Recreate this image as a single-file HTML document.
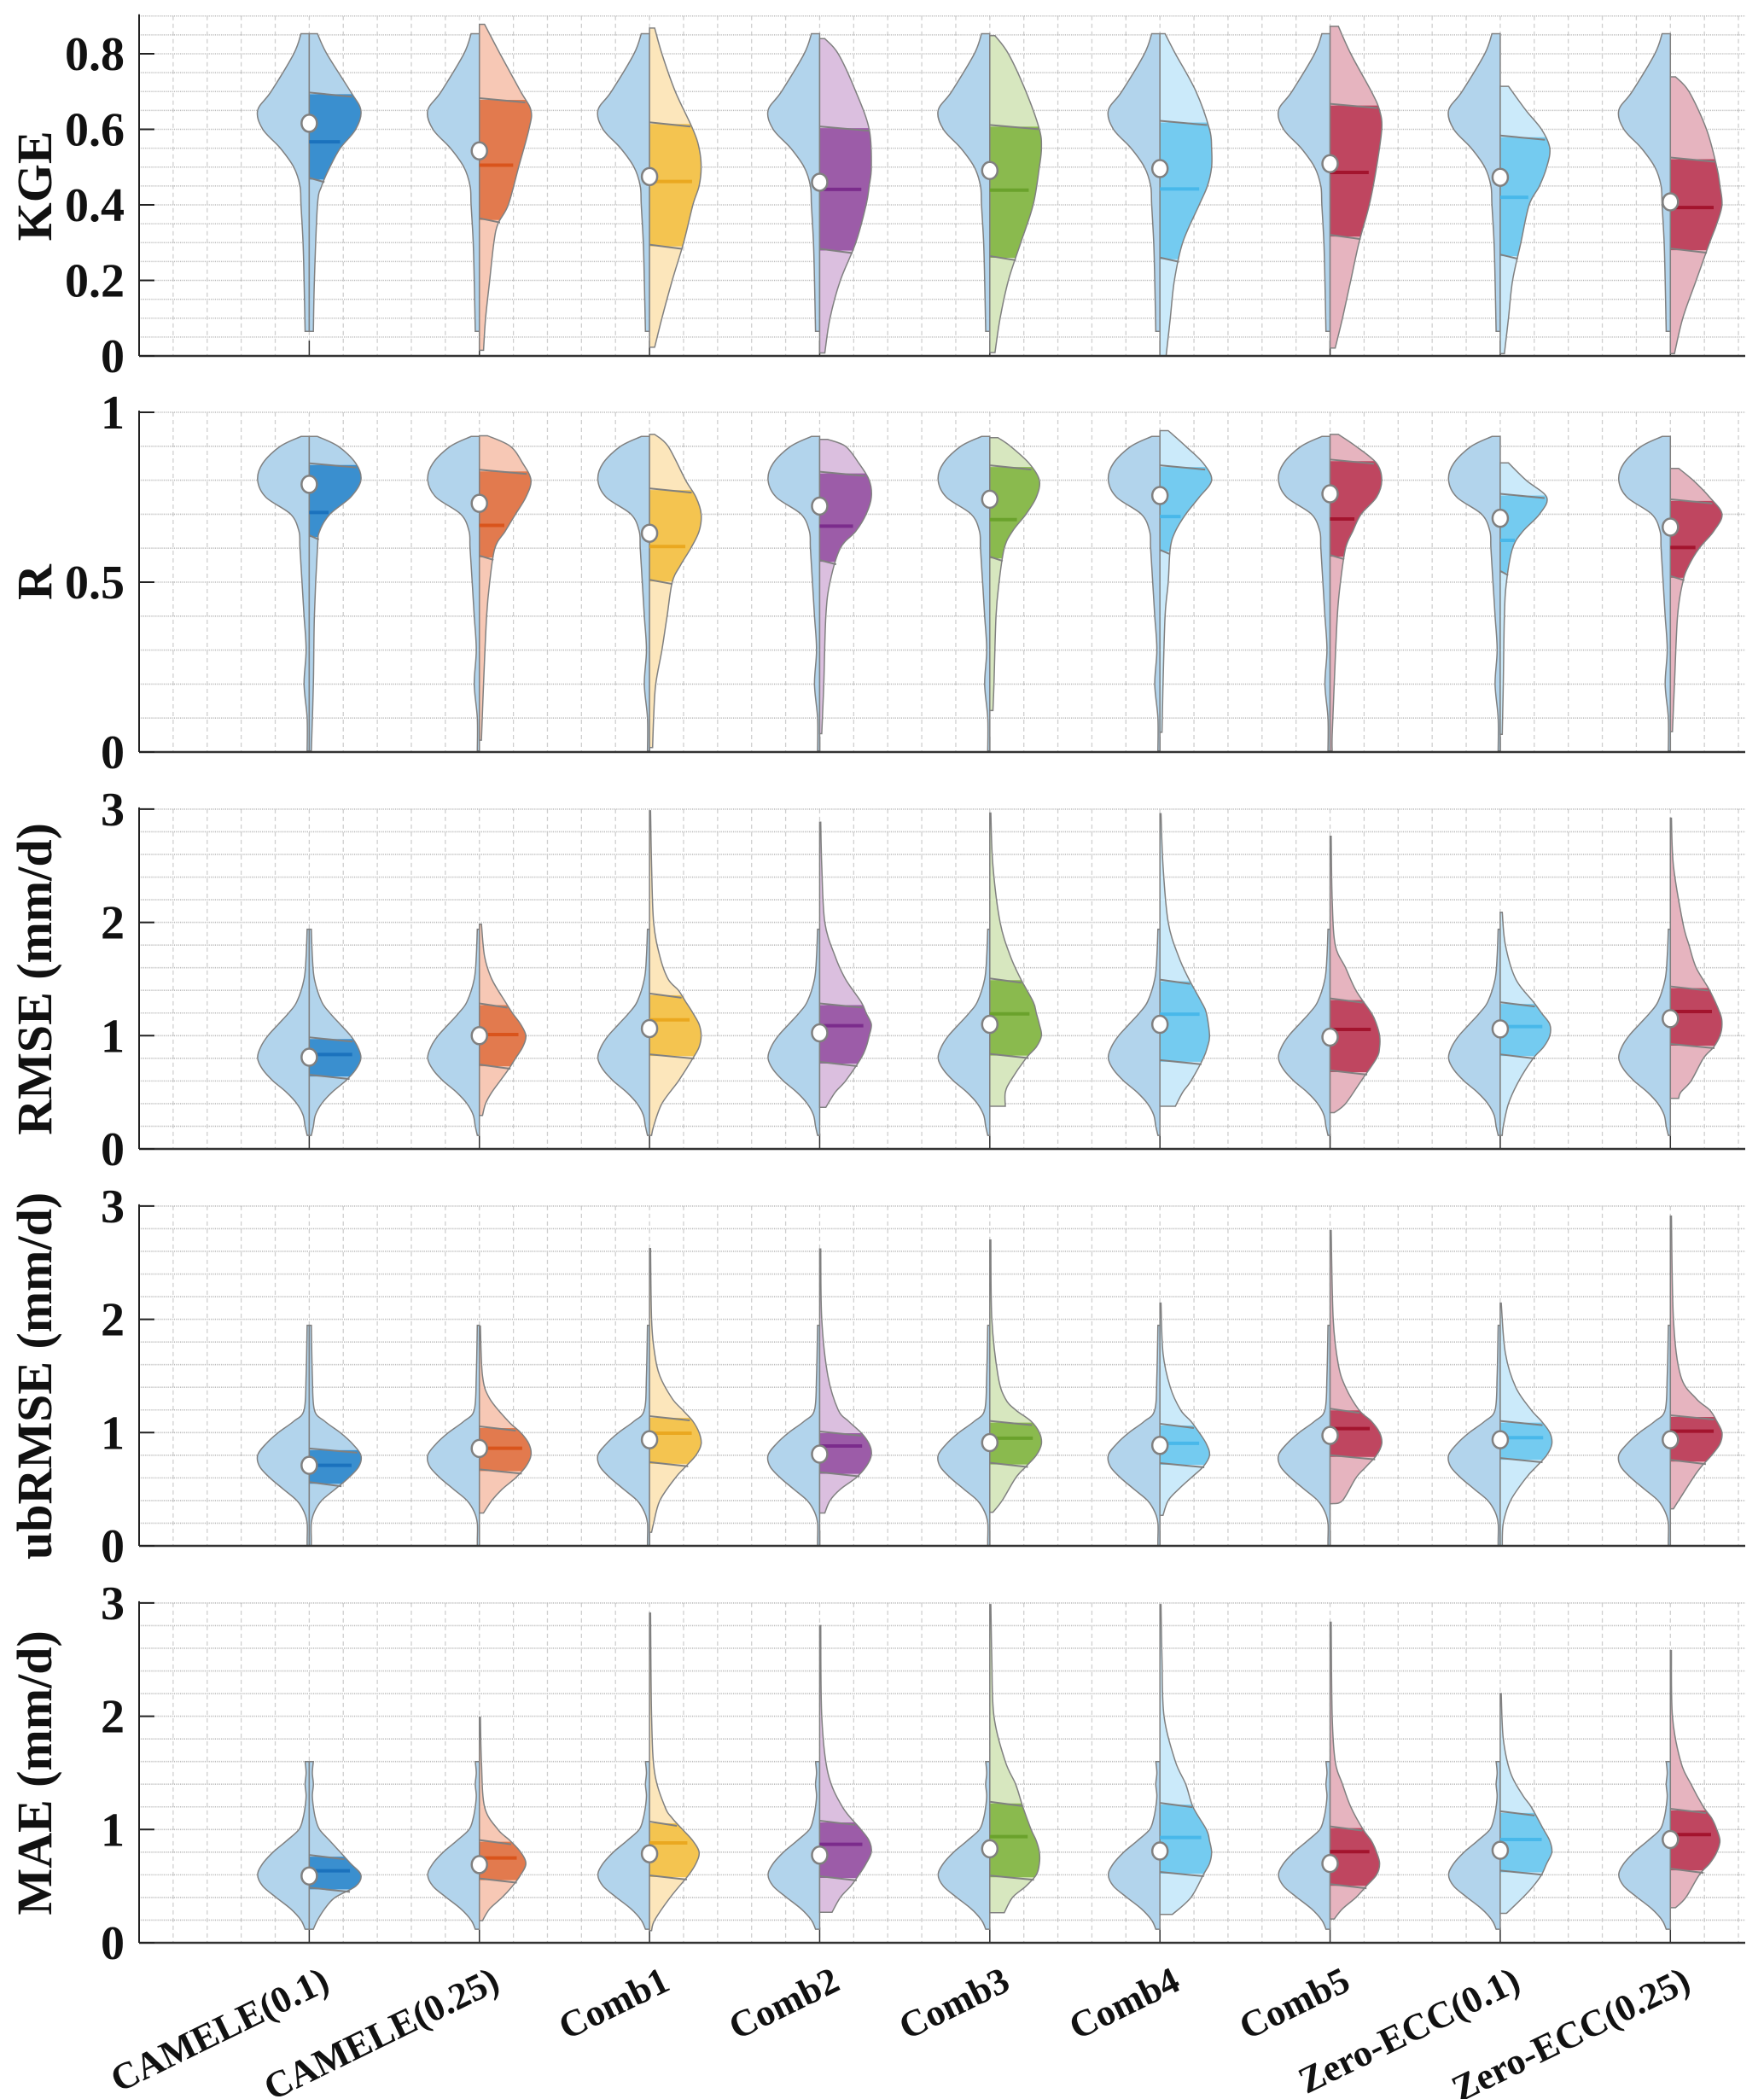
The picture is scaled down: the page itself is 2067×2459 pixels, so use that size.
<!DOCTYPE html>
<html><head><meta charset="utf-8">
<style>
html,body{margin:0;padding:0;background:#fff;}
svg{display:block;font-family:"Liberation Serif",serif;}
</style></head>
<body>
<svg id="chart" width="2067" height="2459" viewBox="0 0 2067 2459" xmlns="http://www.w3.org/2000/svg">
<defs id="defs"></defs>
</svg>
<script>
// ---------- DATA ----------
const categories = ["CAMELE(0.1)","CAMELE(0.25)","Comb1","Comb2","Comb3","Comb4","Comb5","Zero-ECC(0.1)","Zero-ECC(0.25)"];
const darkColors = ["#3a8fcf","#e27a4e","#f4c450","#9c5ca8","#8aba4e","#74cbf0","#bf4660","#74cbf0","#bf4660"];
const lightColors = ["#b2d4ec","#f7c8b5","#fce6bb","#dbbfdf","#d7e7bf","#cbeafa","#e6b4bf","#cbeafa","#e6b4bf"];
const medColors = ["#1b72bd","#d9541c","#eaa820","#7b2c8c","#6aa22c","#48b8ea","#a3142e","#48b8ea","#a3142e"];

// KGE panel
const kgeRef = [[0.065,4],[0.2,5],[0.3,6],[0.4,8],[0.45,9],[0.5,15],[0.55,28],[0.6,45],[0.65,50],[0.7,37],[0.8,15],[0.853,8]];
const kgeProfiles = [
 [[0.065,4],[0.2,5],[0.4,8],[0.45,12],[0.5,20],[0.55,30],[0.6,45],[0.65,50],[0.7,40],[0.8,17],[0.853,8]],
 [[0.015,4],[0.1,6],[0.2,10],[0.3,14],[0.35,18],[0.4,28],[0.5,38],[0.6,48],[0.65,50],[0.7,40],[0.8,20],[0.878,5]],
 [[0.023,5],[0.1,12],[0.2,22],[0.3,33],[0.4,42],[0.45,48],[0.5,50],[0.55,48],[0.6,42],[0.7,25],[0.8,12],[0.868,5]],
 [[0.008,5],[0.1,10],[0.2,20],[0.3,35],[0.4,45],[0.45,48],[0.5,50],[0.6,48],[0.7,35],[0.8,18],[0.84,5]],
 [[0.009,5],[0.1,10],[0.2,18],[0.3,30],[0.4,42],[0.5,48],[0.55,50],[0.6,48],[0.7,35],[0.8,18],[0.848,5]],
 [[0.0,6],[0.1,10],[0.2,14],[0.3,22],[0.4,38],[0.45,46],[0.5,50],[0.55,50],[0.6,48],[0.7,35],[0.8,15],[0.853,5]],
 [[0.021,5],[0.1,12],[0.2,20],[0.3,28],[0.4,38],[0.5,45],[0.6,50],[0.65,48],[0.7,40],[0.8,20],[0.873,8]],
 [[0.006,4],[0.1,8],[0.2,12],[0.3,20],[0.4,28],[0.45,38],[0.5,45],[0.55,48],[0.6,40],[0.65,25],[0.714,8]],
 [[0.006,4],[0.1,12],[0.2,25],[0.3,38],[0.35,45],[0.4,50],[0.45,48],[0.5,45],[0.6,35],[0.7,18],[0.739,5]]
];
const kgeQ1 = [0.467,0.36,0.29,0.279,0.26,0.256,0.316,0.264,0.28];
const kgeMedian = [0.567,0.505,0.462,0.441,0.439,0.442,0.486,0.42,0.393];
const kgeQ3 = [0.693,0.678,0.614,0.603,0.607,0.618,0.663,0.579,0.521];
const kgeMean = [0.616,0.543,0.475,0.46,0.491,0.496,0.509,0.473,0.408];

// R panel
const rRef = [[0.003,2],[0.1,2],[0.2,5],[0.3,3],[0.4,5],[0.5,7],[0.6,9],[0.65,10],[0.7,18],[0.75,42],[0.8,50],[0.85,45],[0.9,28],[0.929,8]];
const rProfiles = [
 [[0.003,2],[0.2,4],[0.4,5],[0.6,8],[0.65,10],[0.7,20],[0.75,40],[0.8,50],[0.85,45],[0.9,28],[0.929,8]],
 [[0.035,2],[0.2,4],[0.4,7],[0.5,10],[0.6,15],[0.65,25],[0.7,35],[0.75,45],[0.8,50],[0.85,42],[0.9,30],[0.931,8]],
 [[0.013,3],[0.1,4],[0.2,6],[0.3,12],[0.4,17],[0.5,22],[0.55,30],[0.6,40],[0.65,48],[0.7,50],[0.75,45],[0.8,35],[0.9,18],[0.935,5]],
 [[0.054,2],[0.2,4],[0.4,6],[0.5,10],[0.6,20],[0.65,35],[0.7,45],[0.75,50],[0.8,48],[0.85,38],[0.9,25],[0.92,8]],
 [[0.122,3],[0.2,4],[0.4,6],[0.5,9],[0.6,14],[0.65,22],[0.7,35],[0.75,45],[0.8,48],[0.85,38],[0.9,20],[0.925,8]],
 [[0.058,2],[0.2,3],[0.4,5],[0.5,8],[0.6,10],[0.65,15],[0.7,25],[0.75,38],[0.8,50],[0.85,42],[0.9,25],[0.946,8]],
 [[0.003,2],[0.05,2],[0.2,4],[0.4,7],[0.5,10],[0.6,15],[0.65,22],[0.7,30],[0.75,45],[0.8,50],[0.85,45],[0.9,25],[0.935,8]],
 [[0.052,2],[0.2,3],[0.4,4],[0.5,6],[0.6,12],[0.65,22],[0.7,38],[0.75,45],[0.8,25],[0.851,8]],
 [[0.06,2],[0.2,4],[0.4,7],[0.5,12],[0.55,18],[0.6,28],[0.65,42],[0.7,50],[0.75,38],[0.8,22],[0.835,8]]
];
const rQ1 = [0.633,0.573,0.502,0.56,0.57,0.59,0.575,0.528,0.513];
const rMedian = [0.705,0.667,0.605,0.665,0.684,0.693,0.686,0.623,0.602];
const rQ3 = [0.845,0.826,0.771,0.82,0.839,0.839,0.856,0.755,0.739];
const rMean = [0.788,0.732,0.644,0.724,0.744,0.755,0.76,0.688,0.662];

// RMSE panel
const rmseRef = [[0.12,2],[0.2,4],[0.3,6],[0.4,12],[0.5,22],[0.6,35],[0.7,45],[0.8,50],[0.9,47],[1.0,40],[1.1,30],[1.2,20],[1.3,12],[1.5,5],[1.7,3],[1.94,2]];
const rmseProfiles = [
 [[0.12,2],[0.2,4],[0.3,6],[0.4,12],[0.5,22],[0.6,35],[0.7,45],[0.8,50],[0.9,47],[1.0,40],[1.1,30],[1.2,20],[1.3,12],[1.5,5],[1.7,3],[1.94,2]],
 [[0.296,3],[0.4,6],[0.5,12],[0.6,20],[0.7,28],[0.8,35],[0.9,42],[1.0,45],[1.1,40],[1.2,32],[1.3,25],[1.5,12],[1.7,5],[1.985,2]],
 [[0.12,2],[0.2,4],[0.4,12],[0.6,28],[0.8,42],[0.9,48],[1.0,50],[1.1,48],[1.2,42],[1.3,35],[1.4,28],[1.5,18],[1.7,10],[2.0,4],[2.5,2],[2.985,1]],
 [[0.367,6],[0.5,15],[0.6,25],[0.8,40],[0.9,45],[1.0,48],[1.1,50],[1.2,45],[1.3,40],[1.5,25],[1.7,15],[2.0,5],[2.5,2],[2.885,1]],
 [[0.377,15],[0.5,15],[0.6,20],[0.8,35],[0.9,45],[1.0,50],[1.1,48],[1.2,45],[1.3,42],[1.5,30],[1.7,20],[2.0,10],[2.5,3],[2.965,1]],
 [[0.377,15],[0.5,22],[0.6,30],[0.8,42],[0.9,46],[1.0,48],[1.2,45],[1.3,40],[1.5,28],[1.7,18],[2.0,8],[2.5,3],[2.96,1]],
 [[0.32,4],[0.4,15],[0.6,30],[0.8,45],[0.9,48],[1.0,48],[1.1,45],[1.2,40],[1.4,25],[1.6,15],[1.8,5],[2.2,2],[2.76,1]],
 [[0.12,2],[0.2,3],[0.4,8],[0.6,18],[0.8,32],[0.9,42],[1.0,48],[1.1,48],[1.2,40],[1.3,32],[1.5,15],[1.8,5],[2.09,2]],
 [[0.447,8],[0.5,10],[0.6,20],[0.8,32],[0.9,42],[1.0,48],[1.1,50],[1.2,48],[1.4,38],[1.6,25],[1.8,18],[2.0,12],[2.5,3],[2.92,1]]
];
const rmseQ1 = [0.64,0.73,0.82,0.754,0.824,0.77,0.678,0.82,0.912];
const rmseMedian = [0.834,1.01,1.14,1.088,1.193,1.19,1.055,1.08,1.213];
const rmseQ3 = [0.97,1.27,1.357,1.27,1.49,1.48,1.314,1.28,1.42];
const rmseMean = [0.81,1.0,1.063,1.025,1.1,1.1,0.987,1.06,1.15];

// ubRMSE panel
const ubRef = [[0.0,2],[0.05,2],[0.2,2],[0.3,5],[0.4,12],[0.5,25],[0.6,38],[0.7,48],[0.8,50],[0.9,42],[1.0,30],[1.1,15],[1.2,5],[1.5,3],[1.947,2]];
const ubProfiles = [
 [[0.0,2],[0.05,2],[0.2,2],[0.3,5],[0.4,12],[0.5,25],[0.6,38],[0.7,48],[0.8,50],[0.9,42],[1.0,30],[1.1,15],[1.2,5],[1.5,3],[1.947,2]],
 [[0.29,4],[0.4,12],[0.5,22],[0.6,35],[0.7,45],[0.8,50],[0.9,48],[1.0,40],[1.1,28],[1.3,10],[1.5,3],[1.94,1]],
 [[0.12,2],[0.2,4],[0.4,10],[0.6,25],[0.7,35],[0.8,45],[0.9,50],[1.0,48],[1.1,42],[1.2,32],[1.3,22],[1.5,10],[1.7,5],[2.0,2],[2.625,1]],
 [[0.29,5],[0.4,10],[0.5,20],[0.6,35],[0.7,45],[0.8,50],[0.9,48],[1.0,40],[1.1,28],[1.2,18],[1.5,8],[2.0,2],[2.62,1]],
 [[0.297,3],[0.4,12],[0.6,25],[0.7,35],[0.8,45],[0.9,50],[1.0,48],[1.1,40],[1.2,25],[1.3,15],[1.5,8],[2.0,2],[2.7,1]],
 [[0.27,3],[0.4,8],[0.5,18],[0.6,30],[0.7,42],[0.8,48],[0.9,45],[1.0,38],[1.1,30],[1.2,20],[1.4,10],[1.7,3],[2.143,1]],
 [[0.372,2],[0.4,12],[0.6,25],[0.7,35],[0.8,45],[0.9,50],[1.0,48],[1.1,40],[1.2,28],[1.4,15],[1.6,8],[2.0,3],[2.784,1]],
 [[0.0,2],[0.2,3],[0.4,10],[0.6,25],[0.7,35],[0.8,45],[0.9,50],[1.0,48],[1.1,40],[1.2,30],[1.4,15],[1.7,5],[2.143,1]],
 [[0.327,3],[0.4,8],[0.6,22],[0.7,30],[0.8,40],[0.9,48],[1.0,50],[1.1,45],[1.2,38],[1.3,25],[1.5,10],[2.0,3],[2.91,1]]
];
const ubQ1 = [0.548,0.66,0.724,0.636,0.719,0.716,0.786,0.76,0.744];
const ubMedian = [0.711,0.862,0.995,0.882,0.95,0.905,1.035,0.955,1.013];
const ubQ3 = [0.845,1.04,1.13,0.995,1.088,1.063,1.196,1.088,1.138];
const ubMean = [0.711,0.86,0.937,0.81,0.912,0.887,0.975,0.937,0.937];

// MAE panel
const maeRef = [[0.12,4],[0.2,8],[0.3,18],[0.4,32],[0.5,45],[0.6,50],[0.7,45],[0.8,35],[0.9,22],[1.0,10],[1.1,6],[1.2,4],[1.3,3],[1.4,4],[1.5,3],[1.6,4]];
const maeProfiles = [
 [[0.12,4],[0.2,8],[0.3,15],[0.4,25],[0.5,45],[0.6,50],[0.7,40],[0.8,30],[0.9,20],[1.0,10],[1.1,6],[1.2,4],[1.3,3],[1.4,4],[1.5,3],[1.6,4]],
 [[0.196,3],[0.3,10],[0.4,22],[0.5,32],[0.6,40],[0.7,45],[0.8,40],[0.9,30],[1.0,18],[1.2,5],[1.6,2],[1.99,1]],
 [[0.108,2],[0.2,5],[0.4,20],[0.6,38],[0.7,45],[0.8,48],[0.9,42],[1.0,32],[1.1,22],[1.2,15],[1.5,5],[2.0,2],[2.91,1]],
 [[0.27,12],[0.4,20],[0.5,30],[0.6,38],[0.7,45],[0.8,50],[0.9,48],[1.0,40],[1.2,22],[1.5,8],[2.0,2],[2.8,1]],
 [[0.266,14],[0.4,22],[0.5,35],[0.6,45],[0.7,48],[0.8,48],[0.9,45],[1.0,40],[1.2,32],[1.4,25],[1.6,15],[2.0,4],[2.5,2],[2.985,1]],
 [[0.25,12],[0.4,30],[0.6,42],[0.7,48],[0.8,50],[0.9,48],[1.0,45],[1.2,32],[1.4,25],[1.6,15],[2.0,4],[2.5,2],[2.985,1]],
 [[0.21,4],[0.3,12],[0.4,25],[0.5,35],[0.6,45],[0.7,48],[0.8,45],[0.9,40],[1.0,32],[1.2,20],[1.4,12],[1.6,5],[2.0,2],[2.83,1]],
 [[0.26,6],[0.4,22],[0.5,32],[0.6,40],[0.7,45],[0.8,50],[0.9,48],[1.0,42],[1.2,30],[1.3,22],[1.5,10],[1.8,3],[2.2,1]],
 [[0.31,5],[0.4,15],[0.6,28],[0.7,38],[0.8,45],[0.9,48],[1.0,45],[1.1,40],[1.2,32],[1.4,20],[1.6,10],[2.0,2],[2.58,1]]
];
const maeQ1 = [0.472,0.553,0.58,0.573,0.578,0.61,0.503,0.623,0.64];
const maeMedian = [0.636,0.749,0.882,0.869,0.937,0.93,0.804,0.912,0.955];
const maeQ3 = [0.76,0.892,1.055,1.063,1.23,1.22,1.013,1.146,1.168];
const maeMean = [0.59,0.69,0.786,0.774,0.83,0.81,0.7,0.817,0.912];

const yTicksKGE = ["0","0.2","0.4","0.6","0.8"];
const yTicksR = ["0","0.5","1"];
const yTicks3 = ["0","1","2","3"];

// ---------- LAYOUT ----------
const NS = "http://www.w3.org/2000/svg";
const svg = document.getElementById("chart");
const defs = document.getElementById("defs");
const X0 = 163, X1 = 2045, XMAX = 9.44;
const K = 1.21; // px per density unit
function xScale(v){ return X0 + v/XMAX*(X1-X0); }
function mk(tag, attrs, parent){ const e=document.createElementNS(NS,tag); for(const k in attrs) e.setAttribute(k,attrs[k]); (parent||svg).appendChild(e); return e; }

const panels = [
 {key:"kge", label:"KGE", y0:417, ymax:0.9, ppu:442.5, grid:0.05, ticks:yTicksKGE, ref:kgeRef, prof:kgeProfiles, q1:kgeQ1, med:kgeMedian, q3:kgeQ3, mean:kgeMean},
 {key:"r", label:"R", y0:881, ymax:1.0, ppu:398, grid:0.1, ticks:yTicksR, ref:rRef, prof:rProfiles, q1:rQ1, med:rMedian, q3:rQ3, mean:rMean},
 {key:"rmse", label:"RMSE (mm/d)", y0:1346, ymax:3, ppu:132.7, grid:0.2, ticks:yTicks3, ref:rmseRef, prof:rmseProfiles, q1:rmseQ1, med:rmseMedian, q3:rmseQ3, mean:rmseMean},
 {key:"ubrmse", label:"ubRMSE (mm/d)", y0:1811, ymax:3, ppu:132.7, grid:0.2, ticks:yTicks3, ref:ubRef, prof:ubProfiles, q1:ubQ1, med:ubMedian, q3:ubQ3, mean:ubMean},
 {key:"mae", label:"MAE (mm/d)", y0:2276, ymax:3, ppu:132.7, grid:0.2, ticks:yTicks3, ref:maeRef, prof:maeProfiles, q1:maeQ1, med:maeMedian, q3:maeQ3, mean:maeMean}
];

function smoothPath(pts){
  let d = "";
  for(let i=0;i<pts.length-1;i++){
    const p0=pts[Math.max(0,i-1)], p1=pts[i], p2=pts[i+1], p3=pts[Math.min(pts.length-1,i+2)];
    const c1x=p1[0]+(p2[0]-p0[0])/6, c1y=p1[1]+(p2[1]-p0[1])/6;
    const c2x=p2[0]-(p3[0]-p1[0])/6, c2y=p2[1]-(p3[1]-p1[1])/6;
    d += ` C${c1x.toFixed(1)},${c1y.toFixed(1)} ${c2x.toFixed(1)},${c2y.toFixed(1)} ${p2[0].toFixed(1)},${p2[1].toFixed(1)}`;
  }
  return d;
}
function halfPath(profile, cx, ys, dir){
  const pts = profile.map(p=>[cx+dir*p[1]*K, ys(p[0])]);
  const first=pts[0], last=pts[pts.length-1];
  return `M${cx},${first[1].toFixed(1)} L${first[0].toFixed(1)},${first[1].toFixed(1)}` + smoothPath(pts) + ` L${cx},${last[1].toFixed(1)} Z`;
}
function widthAt(profile, v){
  for(let i=0;i<profile.length-1;i++){
    const a=profile[i], b=profile[i+1];
    if(v>=a[0] && v<=b[0]) return a[1]+(b[1]-a[1])*(v-a[0])/(b[0]-a[0]);
  }
  return profile[profile.length-1][1];
}

panels.forEach((P, pi)=>{
  const ys = v => P.y0 - v*P.ppu;
  const yTop = ys(P.ymax);
  const g = mk("g",{});
  
  
  const gg = mk("g",{},g);
  
  
  for(let xv=0.2; xv<XMAX; xv+=0.2){
    const x = xScale(xv);
    mk("line",{x1:x,x2:x,y1:yTop,y2:P.y0,stroke:"#cfcfcf","stroke-width":1.3,"stroke-dasharray":"5 4"},gg);
  }
  const n = Math.round(P.ymax/P.grid);
  for(let i=1;i<=n;i++){
    const y = ys(i*P.grid);
    mk("line",{x1:X0,x2:X1,y1:y,y2:y,stroke:"#bdbdbd","stroke-width":1.6,"stroke-dasharray":"1.2 1.2"},gg);
  }
  categories.forEach((c,ci)=>{
    const cx = xScale(ci+1);
    mk("line",{x1:cx,x2:cx,y1:P.y0,y2:P.y0-18,stroke:"#333","stroke-width":1.5},g);
  });
  categories.forEach((c,ci)=>{
    const cx = xScale(ci+1);
    const vg = mk("g",{},g);
    
    
    const left = mk("path",{d:halfPath(P.ref,cx,ys,-1),fill:"#b2d4ec",stroke:"#808080","stroke-width":1.5},vg);
    
    
    const prof = P.prof[ci];
    const rd = halfPath(prof,cx,ys,1);
    const right = mk("path",{d:rd,fill:lightColors[ci],stroke:"none"},vg);
    
    
    const cid = "clip-"+P.key+"-"+ci;
    const cp = mk("clipPath",{id:cid},defs);
    mk("rect",{x:cx,y:ys(P.q3[ci]),width:120,height:ys(P.q1[ci])-ys(P.q3[ci])},cp);
    const band = mk("path",{d:rd,fill:darkColors[ci],stroke:"none","clip-path":`url(#${cid})`},vg);
    
    
    mk("path",{d:rd,fill:"none",stroke:"#808080","stroke-width":1.5},vg);
    [P.q1[ci],P.q3[ci]].forEach(q=>{
      const w = widthAt(prof,q)*K;
      const ql = mk("line",{x1:cx,x2:cx+w,y1:ys(q)-2,y2:ys(q)+3,stroke:"#808080","stroke-width":2},vg);
      
      
    });
    const mw = widthAt(prof,P.med[ci])*K*0.85;
    const ml = mk("line",{x1:cx,x2:cx+mw,y1:ys(P.med[ci]),y2:ys(P.med[ci]),stroke:medColors[ci],"stroke-width":4},vg);
    
    
    const mc = mk("ellipse",{cx:cx,cy:ys(P.mean[ci]),rx:9,ry:10,fill:"#fff",stroke:"#808080","stroke-width":2.5},vg);
    
    
  });
  const ya = mk("line",{x1:X0,x2:X0,y1:yTop-2,y2:P.y0,stroke:"#222","stroke-width":2},g);
  
  
  const xa = mk("line",{x1:X0,x2:X1,y1:P.y0,y2:P.y0,stroke:"#333","stroke-width":2.5},g);
  
  
  P.ticks.forEach(t=>{
    const y = ys(parseFloat(t));
    mk("line",{x1:X0,x2:X0+18,y1:y,y2:y,stroke:"#222","stroke-width":2},g);
    const tx = mk("text",{x:146,y:y+19,"text-anchor":"end","font-size":56,"font-weight":"bold",fill:"#111"},g);
    tx.textContent = t;
    
    
  });
  const yc = (yTop+P.y0)/2;
  const lab = mk("text",{x:0,y:0,transform:`translate(60,${yc}) rotate(-90)`,"text-anchor":"middle","font-size":58,"font-weight":"bold",fill:"#111"},g);
  lab.textContent = P.label;
  
  
});

categories.forEach((c,ci)=>{
  const cx = xScale(ci+1);
  const t = mk("text",{x:0,y:0,transform:`translate(${cx+26},${2330}) rotate(-26)`,"text-anchor":"end","font-size":44,"font-weight":"bold",fill:"#111"});
  t.textContent = c;
  
  
});
</script>
</body></html>
